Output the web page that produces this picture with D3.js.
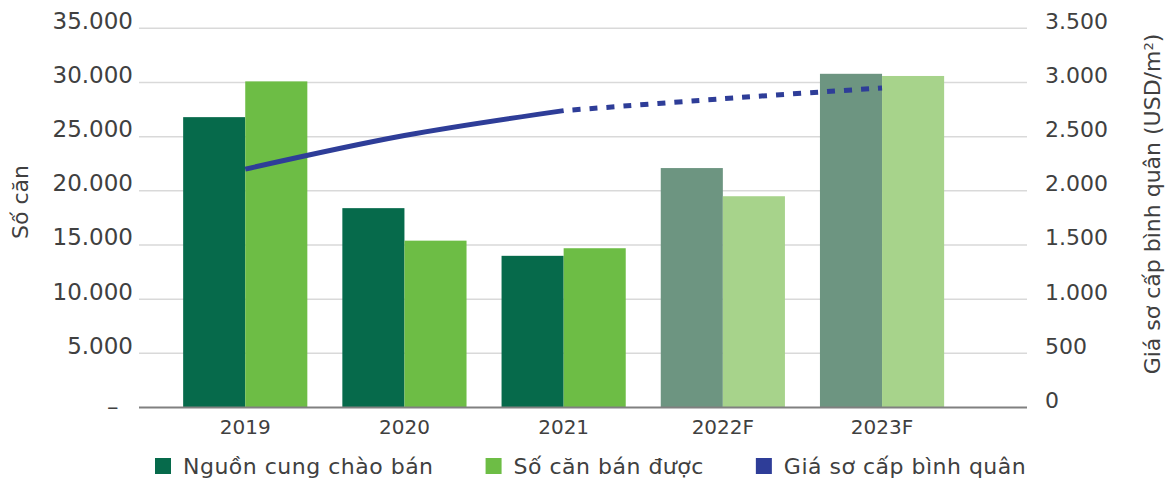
<!DOCTYPE html>
<html>
<head>
<meta charset="utf-8">
<script src="https://cdn.jsdelivr.net/npm/d3@7"></script>
<style>
  body { margin: 0; background: #fff; }
  svg { display: block; font-family: "DejaVu Sans", sans-serif; }
</style>
</head>
<body>
<div id="chart"></div>
<script>
// data
const years = ["2019", "2020", "2021", "2022F", "2023F"];
const supply = [26800, 18400, 14000, 22100, 30800];   // Nguồn cung chào bán
const sold = [30100, 15400, 14700, 19500, 30600];     // Số căn bán được
const price = [2200, 2510, 2740, 2850, 2950];         // Giá sơ cấp bình quân
const isForecast = [false, false, false, true, true];
const leftTicks = [0, 5000, 10000, 15000, 20000, 25000, 30000, 35000];
const rightTicks = [0, 500, 1000, 1500, 2000, 2500, 3000, 3500];
const legendLabels = ["Nguồn cung chào bán", "Số căn bán được", "Giá sơ cấp bình quân"];

const C = {
  supply: "#066a4b", sold: "#6dbd45",
  supplyF: "#6d9581", soldF: "#a7d38b",
  line: "#2e3d98", grid: "#d9d9d9", axis: "#808080", text: "#404040"
};
const FONT = '"DejaVu Sans", sans-serif';

const W = 1171, H = 484,
  M = { t: 28.3, r: 144, b: 76.5, l: 139 },
  w = W - M.l - M.r,
  h = H - M.t - M.b;

const svg = d3.select("#chart").append("svg")
  .attr("width", W).attr("height", H)
  .attr("viewBox", `0 0 ${W} ${H}`);
const g = svg.append("g").attr("transform", `translate(${M.l},${M.t})`);

const x0 = d3.scaleBand().domain(years).range([w * 0.03, w * 0.9264])
  .paddingInner(0.22).paddingOuter(0.11);
const x1 = d3.scaleBand().domain(["supply", "sold"]).range([0, x0.bandwidth()]);
const y = d3.scaleLinear().domain([0, 35000]).range([h, 0]);
const yR = d3.scaleLinear().domain([0, 3500]).range([h, 0]);

const dotFmt = d => d3.format(",")(d).replace(/,/g, ".");

// gridlines
g.append("g").selectAll("line").data(leftTicks.slice(1)).join("line")
  .attr("x1", 0).attr("x2", w)
  .attr("y1", d => y(d)).attr("y2", d => y(d))
  .attr("stroke", C.grid).attr("stroke-width", 1.5);

// left axis labels
const yAx = g.append("g").call(
  d3.axisLeft(y).tickValues(leftTicks).tickSize(0).tickPadding(6)
    .tickFormat(d => d === 0 ? "–\u00a0\u00a0" : dotFmt(d))
).attr("font-family", FONT).attr("font-size", 23);
yAx.select(".domain").remove();
yAx.selectAll("text").attr("fill", C.text)
  .attr("dy", d => d === 0 ? "0.32em" : "0em");

// right axis labels
const yAxR = g.append("g").attr("transform", `translate(${w},0)`).call(
  d3.axisRight(yR).tickValues(rightTicks).tickSize(0).tickPadding(18).tickFormat(dotFmt)
).attr("font-family", FONT).attr("font-size", 22);
yAxR.select(".domain").remove();
yAxR.selectAll("text").attr("fill", C.text).attr("dy", "0em");

// bars
const rows = years.map((yr, i) => ({ yr, supply: supply[i], sold: sold[i], f: isForecast[i] }));
const grp = g.selectAll(".bg").data(rows).join("g")
  .attr("class", "bg")
  .attr("transform", d => `translate(${x0(d.yr)},0)`);
grp.append("rect")
  .attr("x", x1("supply")).attr("width", x1.bandwidth())
  .attr("y", d => y(d.supply)).attr("height", d => h - y(d.supply))
  .attr("fill", d => d.f ? C.supplyF : C.supply);
grp.append("rect")
  .attr("x", x1("sold")).attr("width", x1.bandwidth())
  .attr("y", d => y(d.sold)).attr("height", d => h - y(d.sold))
  .attr("fill", d => d.f ? C.soldF : C.sold);

// x axis
const xAx = g.append("g").attr("transform", `translate(0,${h})`)
  .call(d3.axisBottom(x0).tickSize(0).tickPadding(12))
  .attr("font-family", FONT).attr("font-size", 20);
xAx.select(".domain").attr("d", `M0,0H${w}`).attr("stroke", C.axis).attr("stroke-width", 1.8);
xAx.selectAll("text").attr("fill", C.text);

// price line: actual solid, forecast dotted
const pts = price.map((p, i) => [x0(years[i]) + x0.bandwidth() / 2, yR(p)]);
const line = d3.line().curve(d3.curveCatmullRom.alpha(0.5));
g.append("path").attr("d", line(pts.slice(0, 3)))
  .attr("fill", "none").attr("stroke", C.line).attr("stroke-width", 5);
g.append("path").attr("d", line(pts.slice(2)))
  .attr("fill", "none").attr("stroke", C.line).attr("stroke-width", 5)
  .attr("stroke-dasharray", "8,9").attr("stroke-dashoffset", -9);

// axis titles
svg.append("text")
  .attr("transform", `translate(28,${202}) rotate(-90)`)
  .attr("text-anchor", "middle").attr("fill", C.text).style("font-size", "22px")
  .text("Số căn");
const rt = svg.append("text")
  .attr("transform", `translate(1160,${204}) rotate(-90)`)
  .attr("text-anchor", "middle").attr("fill", C.text).style("font-size", "22px");
rt.append("tspan").text("Giá sơ cấp bình quân (USD/m");
rt.append("tspan").attr("baseline-shift", "super").style("font-size", "13px").text("2");
rt.append("tspan").text(")");

// legend
const legColors = [C.supply, C.sold, C.line];
const leg = svg.append("g").attr("transform", "translate(155,466)");
let lx = 0;
legendLabels.forEach((lab, i) => {
  const it = leg.append("g").attr("transform", `translate(${lx},0)`);
  it.append("rect").attr("x", 0).attr("y", -8).attr("width", 16).attr("height", 16)
    .attr("fill", legColors[i]);
  const t = it.append("text").attr("x", 28).attr("dy", "0.36em")
    .attr("fill", C.text).style("font-size", "22px").style("letter-spacing", "0.5px")
    .text(lab);
  lx += 28 + t.node().getComputedTextLength() + 52;
});
</script>
</body>
</html>
